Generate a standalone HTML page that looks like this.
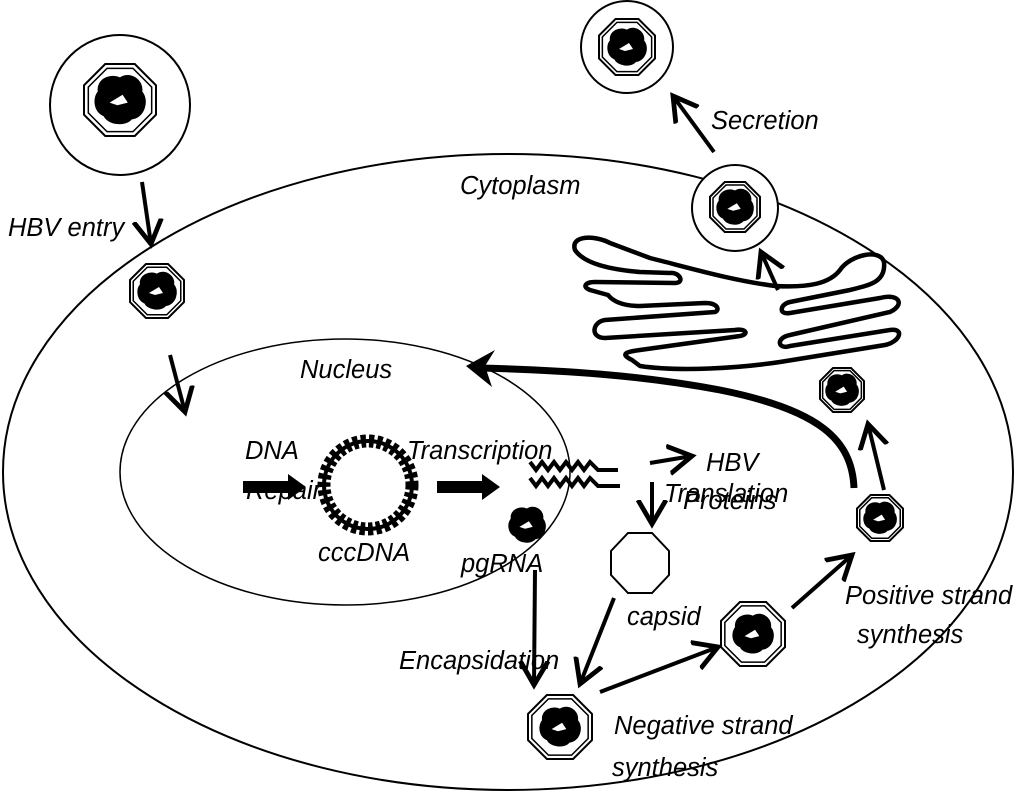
<!DOCTYPE html>
<html><head><meta charset="utf-8"><style>
html,body{margin:0;padding:0;background:#fff}
svg{display:block}
text{font-family:"Liberation Sans",sans-serif;font-style:italic;font-size:25.5px;fill:#000}
</style></head><body>
<svg width="1024" height="801" viewBox="0 0 1024 801" xmlns="http://www.w3.org/2000/svg">
<defs>
<g id="blob">
<path d="M-15,-6 C-17,-15 -6,-19 0,-15 C7,-21 17,-14 15,-6 C21,0 17,13 8,13 C4,19 -9,17 -11,11 C-19,8 -19,-2 -15,-6 Z" fill="#000" stroke="#000" stroke-width="4"/>
<path d="M-8,2 L2,-4 L6,2 L-2,4 Z" fill="#fff"/>
</g>
<g id="oct">
<polygon points="-0.41,-1 0.41,-1 1,-0.41 1,0.41 0.41,1 -0.41,1 -1,0.41 -1,-0.41" fill="#fff" stroke="#000" stroke-width="2" vector-effect="non-scaling-stroke"/>
<polygon points="-0.36,-0.88 0.36,-0.88 0.88,-0.36 0.88,0.36 0.36,0.88 -0.36,0.88 -0.88,0.36 -0.88,-0.36" fill="none" stroke="#000" stroke-width="1.5" vector-effect="non-scaling-stroke"/>
</g>
<marker id="ah" markerWidth="8" markerHeight="8" refX="6" refY="4" orient="auto" markerUnits="strokeWidth">
<path d="M0,0.5 L6,4 L0,7.5" fill="none" stroke="#000" stroke-width="1.2"/>
</marker>
</defs>

<ellipse cx="508" cy="472" rx="505" ry="318" fill="none" stroke="#000" stroke-width="2"/>
<ellipse cx="345" cy="472" rx="225" ry="133" fill="none" stroke="#000" stroke-width="1.5"/>

<circle cx="120" cy="105" r="70" fill="none" stroke="#000" stroke-width="2"/>
<circle cx="627" cy="47" r="46" fill="none" stroke="#000" stroke-width="2"/>
<circle cx="735" cy="208" r="43" fill="#fff" stroke="#000" stroke-width="2"/>

<path d="M575,250 C570,235 595,235 610,243 L650,258 C690,268 730,280 775,286 C810,288 830,283 840,270 C850,255 880,248 884,262 C886,282 870,285 850,290 L790,302 C780,304 778,315 790,313 L880,298 C900,293 905,305 890,312 L790,335 C775,338 778,350 790,346 L890,330 C905,328 900,342 885,345 L780,362 C740,368 680,372 640,366 L632,360 C620,354 625,352 640,350 L740,336 C750,334 745,328 735,330 L605,338 C590,338 592,322 605,320 L715,312 C720,310 718,303 705,303 L640,306 C620,306 612,300 608,295 L590,290 C582,287 585,282 595,282 L675,283 C685,283 680,272 670,273 L640,272 C615,270 585,265 575,250 Z" fill="none" stroke="#000" stroke-width="4.5" stroke-linejoin="round"/>

<g transform="translate(120,100) scale(36)"><use href="#oct"/></g><use href="#blob" transform="translate(120,100) scale(1.3)"/>
<g transform="translate(627,47) scale(28)"><use href="#oct"/></g><use href="#blob" transform="translate(627,47)"/>
<g transform="translate(735,207) scale(25)"><use href="#oct"/></g><use href="#blob" transform="translate(735,207) scale(0.95)"/>
<g transform="translate(157,291) scale(27)"><use href="#oct"/></g><use href="#blob" transform="translate(157,291)"/>
<g transform="translate(842,390) scale(22)"><use href="#oct"/></g><use href="#blob" transform="translate(842,390) scale(0.85)"/>
<g transform="translate(880,518) scale(23)"><use href="#oct"/></g><use href="#blob" transform="translate(880,518) scale(0.85)"/>
<g transform="translate(753,634) scale(32)"><use href="#oct"/></g><use href="#blob" transform="translate(753,634) scale(1.05)"/>
<g transform="translate(560,727) scale(32)"><use href="#oct"/></g><use href="#blob" transform="translate(560,727) scale(1.05)"/>
<polygon points="628,533 652,533 669,551 669,575 652,593 628,593 611,575 611,551" fill="#fff" stroke="#000" stroke-width="2"/>
<use href="#blob" transform="translate(527,525) scale(0.95)"/>

<!-- cccDNA -->
<circle cx="368" cy="485" r="44" fill="none" stroke="#000" stroke-width="13" stroke-dasharray="5 3"/>
<circle cx="368" cy="485" r="44" fill="none" stroke="#000" stroke-width="4"/>
<circle cx="368" cy="485" r="33" fill="#fff"/>

<path d="M530,462 l6,8 l6,-8 l6,8 l6,-8 l6,8 l6,-8 l6,8 l6,-8 l6,8 l6,-8 l8,8 h20" fill="none" stroke="#000" stroke-width="4"/>
<path d="M530,478 l6,8 l6,-8 l6,8 l6,-8 l6,8 l6,-8 l6,8 l6,-8 l6,8 l6,-8 l8,8 h22" fill="none" stroke="#000" stroke-width="4"/>

<path d="M243,481 h45 v-7 l18,13 l-18,13 v-7 h-45 z" fill="#000"/>
<path d="M437,481 h45 v-7 l18,13 l-18,13 v-7 h-45 z" fill="#000"/>

<g stroke="#000" stroke-width="4" fill="none" marker-end="url(#ah)">
<line x1="142" y1="182" x2="151" y2="244"/>
<line x1="170" y1="355" x2="185" y2="412"/>
<line x1="650" y1="463" x2="692" y2="456"/>
<line x1="652" y1="482" x2="652" y2="524"/>
<line x1="535" y1="570" x2="534" y2="685"/>
<line x1="614" y1="598" x2="580" y2="684"/>
<line x1="600" y1="692" x2="718" y2="647"/>
<line x1="792" y1="608" x2="852" y2="555"/>
<line x1="884" y1="490" x2="868" y2="424"/>
<line x1="778" y1="290" x2="761" y2="252"/>
<line x1="714" y1="152" x2="673" y2="96"/>
</g>

<path d="M854,488 C852,440 820,410 720,390 C640,375 560,370 480,368" fill="none" stroke="#000" stroke-width="7"/>
<path d="M466,366 L495,350 L485,366 L492,387 Z" fill="#000"/>

<text x="8" y="236">HBV entry</text>
<text x="460" y="194">Cytoplasm</text>
<text x="711" y="129">Secretion</text>
<text x="300" y="378">Nucleus</text>
<text x="245" y="459">DNA</text>
<text x="246" y="499">Repair</text>
<text x="407" y="459">Transcription</text>
<text x="706" y="471">HBV</text>
<text x="683" y="509">Proteins</text>
<text x="664" y="502">Translation</text>
<text x="318" y="561">cccDNA</text>
<text x="461" y="572">pgRNA</text>
<text x="627" y="625">capsid</text>
<text x="845" y="604">Positive strand</text>
<text x="857" y="643">synthesis</text>
<text x="399" y="669">Encapsidation</text>
<text x="614" y="734">Negative strand</text>
<text x="612" y="776">synthesis</text>
</svg>
</body></html>
